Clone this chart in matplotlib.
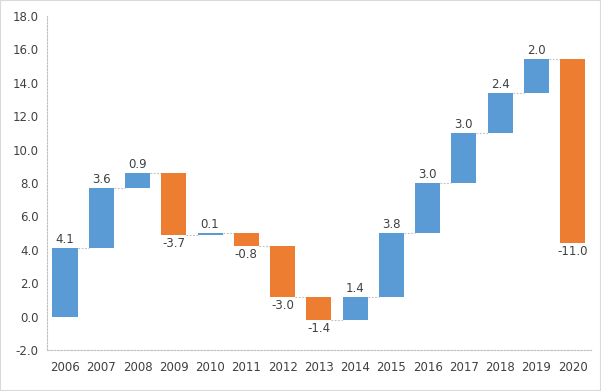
import matplotlib
matplotlib.use("Agg")
import matplotlib.pyplot as plt
import numpy as np
from matplotlib.ticker import FormatStrFormatter

years = ["2006", "2007", "2008", "2009", "2010", "2011", "2012", "2013",
         "2014", "2015", "2016", "2017", "2018", "2019", "2020"]
changes = [4.1, 3.6, 0.9, -3.7, 0.1, -0.8, -3.0, -1.4, 1.4, 3.8, 3.0, 3.0, 2.4, 2.0, -11.0]

blue = "#5B9BD5"
orange = "#ED7D31"
txt = "#404040"

fig = plt.figure(figsize=(6.01, 3.91), dpi=100)
fig.patches.append(plt.Rectangle((0, 0), 1, 1, transform=fig.transFigure,
                                 fill=False, edgecolor="#D9D9D9", linewidth=1.5))
ax = fig.add_axes([0.078, 0.105, 0.905, 0.854])

x = np.arange(len(years))
ch = np.array(changes)
end = np.cumsum(ch)
start = end - ch
bottoms = np.minimum(start, end)
heights = np.abs(ch)
colors = [blue if c >= 0 else orange for c in ch]
w = 0.69
ax.bar(x, heights, bottom=bottoms, width=w, color=colors, zorder=3)

for i in range(len(x) - 1):
    ax.hlines(end[i], x[i] + w / 2, x[i + 1] - w / 2, colors="#BFBFBF",
              linestyles=(0, (1.5, 1.5)), linewidth=0.8, zorder=2)

for i, c in enumerate(ch):
    top = max(start[i], end[i])
    bot = min(start[i], end[i])
    if c >= 0:
        ax.text(x[i], top + 0.12, f"{c:.1f}", ha="center", va="bottom",
                fontsize=8.5, color=txt)
    else:
        ax.text(x[i], bot - 0.12, f"{c:.1f}", ha="center", va="top",
                fontsize=8.5, color=txt)

ax.set_xlim(-0.5, len(x) - 0.5)
ax.set_ylim(-2, 18)
ax.set_yticks(np.arange(-2, 18.1, 2))
ax.yaxis.set_major_formatter(FormatStrFormatter("%.1f"))
ax.set_xticks(x)
ax.set_xticklabels(years)
ax.tick_params(length=0, labelsize=8.5, labelcolor=txt, pad=8)
ax.tick_params(axis="y", pad=6)
for s in ["top", "right"]:
    ax.spines[s].set_visible(False)
for s in ["left", "bottom"]:
    ax.spines[s].set_color("#BFBFBF")
    ax.spines[s].set_linestyle((0, (1.5, 1.5)))
    ax.spines[s].set_linewidth(0.8)

fig.savefig("out.png", dpi=100)
